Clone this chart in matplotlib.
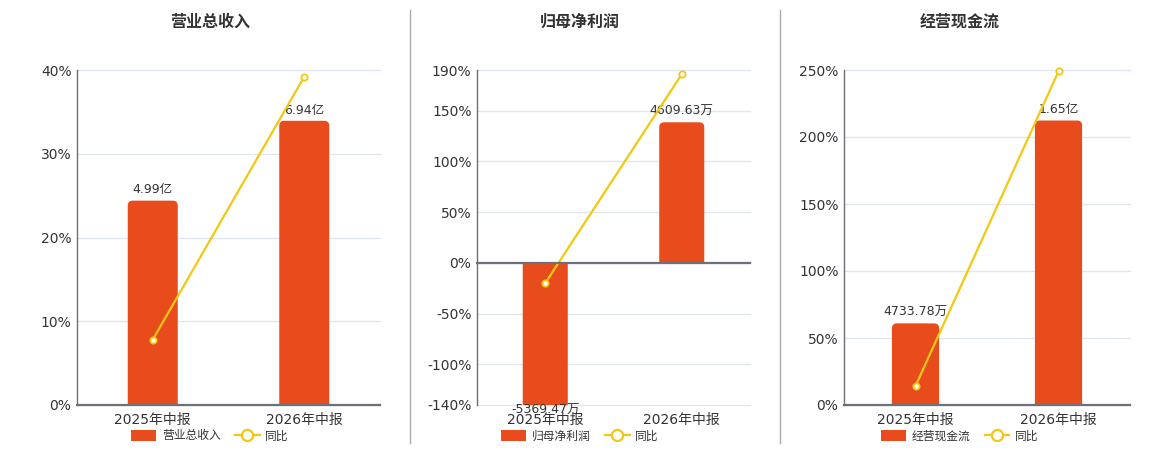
import matplotlib.pyplot as plt
from matplotlib.patches import PathPatch, Patch
from matplotlib.path import Path
from matplotlib.lines import Line2D

plt.rcParams['font.family'] = ['DejaVu Sans', 'Noto Sans CJK SC']

# data (bar values in 万元, 同比 in %)
periods = ["2025年中报", "2026年中报"]

revenue = [49900, 69400]
revenue_labels = ["4.99亿", "6.94亿"]
revenue_yoy = [7.8, 39.2]

net_profit = [-5369.47, 4609.63]
net_profit_labels = ["-5369.47万", "4609.63万"]
net_profit_yoy = [-20.0, 185.8]

cash_flow = [4733.78, 16500]
cash_flow_labels = ["4733.78万", "1.65亿"]
cash_flow_yoy = [14.2, 249.0]

bar_color = "#e84c1d"
gold = "#f2c811"
axis_gray = "#6e7079"
text_color = "#333333"

W, H = 1160, 450

panels = [
    dict(title="营业总收入", bars=revenue, labels=revenue_labels, yoy=revenue_yoy,
         yticks=[0, 10, 20, 30, 40], ylim=(0, 40), bar_ylim=(0, 81800),
         left=77, right=380, center=210),
    dict(title="归母净利润", bars=net_profit, labels=net_profit_labels, yoy=net_profit_yoy,
         yticks=[-140, -100, -50, 0, 50, 100, 150, 190], ylim=(-140, 190), bar_ylim=(-4672, 6326),
         left=477, right=750, center=580),
    dict(title="经营现金流", bars=cash_flow, labels=cash_flow_labels, yoy=cash_flow_yoy,
         yticks=[0, 50, 100, 150, 200, 250], ylim=(0, 250), bar_ylim=(0, 19430),
         left=844, right=1130, center=960),
]


def rounded_end(x0, base, bw, end, rx, ry):
    # bar outline with rounded corners on the far end only
    s = 1 if end >= base else -1
    verts = [(x0, base), (x0, end - s * ry), (x0, end), (x0 + rx, end),
             (x0 + bw - rx, end), (x0 + bw, end), (x0 + bw, end - s * ry),
             (x0 + bw, base), (x0, base)]
    codes = [Path.MOVETO, Path.LINETO, Path.CURVE3, Path.CURVE3,
             Path.LINETO, Path.CURVE3, Path.CURVE3, Path.LINETO, Path.CLOSEPOLY]
    return Path(verts, codes)


fig = plt.figure(figsize=(W / 100, H / 100), dpi=100)

top_px, bottom_px = 70, 405
x = list(range(len(periods)))

for p in panels:
    l = p["left"] / W
    w = (p["right"] - p["left"]) / W
    b = 1 - bottom_px / H
    h = (bottom_px - top_px) / H

    # percent axis: grid, left spine, tick labels
    ax = fig.add_axes([l, b, w, h])
    ax.set_xlim(-0.5, len(periods) - 0.5)
    ax.set_ylim(p["ylim"])
    ax.set_yticks(p["yticks"])
    ax.set_yticklabels([f"{t}%" for t in p["yticks"]])
    ax.grid(axis='y', color='#e0e6f1', lw=1)
    for gl in ax.get_ygridlines():
        gl.set_clip_on(False)
    ax.set_axisbelow(True)
    for s in ['top', 'right', 'bottom']:
        ax.spines[s].set_visible(False)
    ax.spines['left'].set_color(axis_gray)
    ax.spines['left'].set_linewidth(1)
    ax.tick_params(axis='y', length=0, labelsize=10, labelcolor=text_color, pad=4)
    ax.tick_params(axis='x', bottom=False, labelbottom=False)

    # bar axis (hidden)
    axb = ax.twinx()
    axb.set_ylim(p["bar_ylim"])
    axb.axis('off')
    bars = axb.bar(x, p["bars"], width=0.33, color=bar_color, lw=0)
    xpp = (len(periods)) / (w * W)
    ypp = (p["bar_ylim"][1] - p["bar_ylim"][0]) / (bottom_px - top_px)
    for rect in bars:
        x0, y0 = rect.get_x(), rect.get_y()
        bw, bh = rect.get_width(), rect.get_height()
        rect.set_visible(False)
        path = rounded_end(x0, y0, bw, y0 + bh, 5 * xpp, 5 * ypp)
        axb.add_patch(PathPatch(path, fc=bar_color, ec='none', lw=0))

    lo = p["bar_ylim"][0]
    for i, (v, lab) in enumerate(zip(p["bars"], p["labels"])):
        if v >= 0:
            axb.annotate(lab, (i, v), xytext=(0, 3), textcoords='offset points',
                         ha='center', va='bottom', fontsize=9, color=text_color)
        else:
            axb.annotate(lab, (i, max(v, lo)), xytext=(0, 1), textcoords='offset points',
                         ha='center', va='top', fontsize=9, color=text_color,
                         annotation_clip=False)

    # line axis on top, carries the x axis line
    axl = ax.twinx()
    axl.set_ylim(p["ylim"])
    for s in ['top', 'right', 'left']:
        axl.spines[s].set_visible(False)
    axl.spines['bottom'].set_position(('data', 0))
    axl.spines['bottom'].set_color(axis_gray)
    axl.spines['bottom'].set_linewidth(1.6)
    axl.set_xticks([-0.5, 0.5, 1.5])
    axl.tick_params(axis='x', length=5, width=1, color=axis_gray, labelbottom=False)
    axl.tick_params(axis='y', right=False, labelright=False)
    axl.plot(x, p["yoy"], color=gold, lw=1.6, marker='o', ms=4.5,
             mfc='white', mec=gold, mew=1.3, clip_on=False)

    for i, per in enumerate(periods):
        ax.text(i, -0.046, per, transform=ax.get_xaxis_transform(),
                ha='center', va='center', fontsize=10, color=text_color)

    fig.text(p["center"] / W, 1 - 22 / H, p["title"], ha='center', va='center',
             fontsize=11.5, fontweight='bold', color=text_color)

    handles = [Patch(facecolor=bar_color, edgecolor='none', label=p["title"]),
               Line2D([], [], color=gold, lw=1.6, marker='o', ms=8, mfc='white',
                      mec=gold, mew=1.6, label='同比')]
    leg = fig.legend(handles=handles, loc='center', bbox_to_anchor=(p["center"] / W, 1 - 436 / H),
                     ncol=2, frameon=False, fontsize=8.5, handlelength=2.1, handleheight=1.1,
                     columnspacing=1.2, handletextpad=0.5)
    for t in leg.get_texts():
        t.set_color(text_color)

# separators between panels
for sx in [410, 780]:
    fig.add_artist(Line2D([sx / W, sx / W], [1 - 10 / H, 1 - 443 / H],
                          color='#aaaaaa', lw=1))

fig.savefig("out.png", dpi=100)
